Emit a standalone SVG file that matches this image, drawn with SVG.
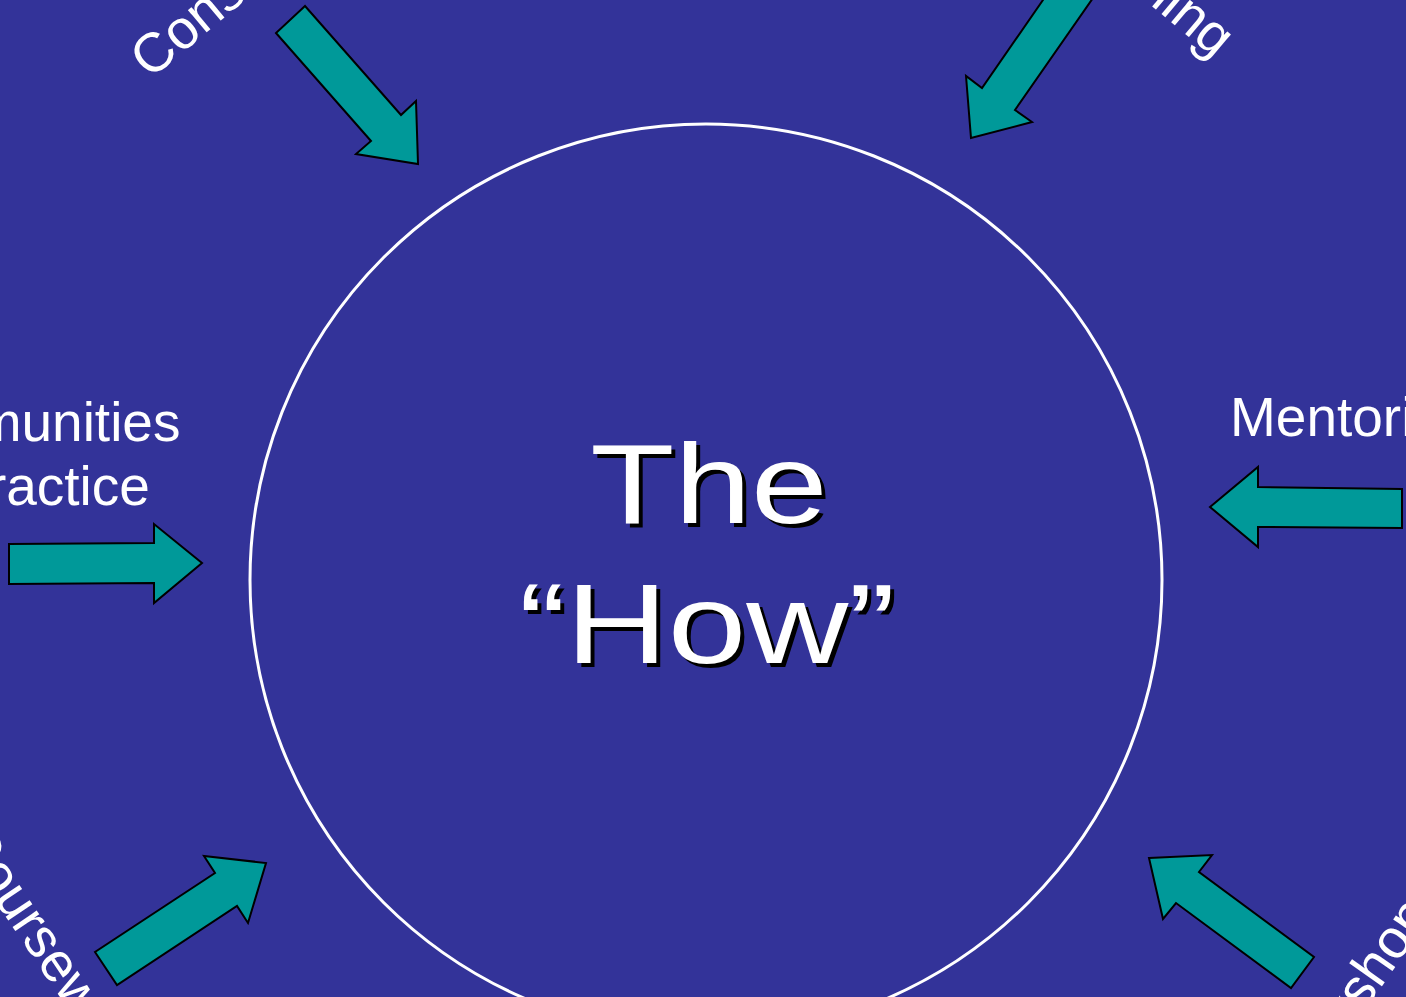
<svg xmlns="http://www.w3.org/2000/svg" width="1406" height="997" viewBox="0 0 1406 997">
  <style>
    .bg { fill: #333399; }
    .arrow { fill: #009999; stroke: #000000; stroke-width: 2; stroke-linejoin: miter; }
    .label { font-family: "Liberation Sans", Arial, sans-serif; font-size: 55px; fill: #ffffff; }
    .big { font-family: "Liberation Sans", Arial, sans-serif; font-size: 113px; text-anchor: middle; }
    .shadow { fill: #000000; }
    .front { fill: #ffffff; }
  </style>
  <rect class="bg" x="0" y="0" width="1406" height="997"/>

  <g id="how">
    <circle cx="706" cy="580" r="456" fill="none" stroke="#ffffff" stroke-width="3"/>
    <g transform="translate(713,527) scale(1.22,1)"><text class="big shadow" x="0" y="0">The</text></g>
    <g transform="translate(709,523) scale(1.22,1)"><text class="big front" x="0" y="0">The</text></g>
    <g transform="translate(711,667) scale(1.25,1)"><text class="big shadow" x="0" y="0">“How”</text></g>
    <g transform="translate(707,663) scale(1.25,1)"><text class="big front" x="0" y="0">“How”</text></g>
  </g>

  <g id="consulting">
    <text class="label" transform="translate(150,80) rotate(-40)">Consulting</text>
  </g>
  <g id="training">
    <text class="label" text-anchor="end" transform="translate(1215,59) rotate(40)">Training</text>
  </g>
  <g id="communities">
    <text class="label" text-anchor="middle" x="20" y="441">Communities</text>
    <text class="label" text-anchor="middle" x="20" y="505">of Practice</text>
  </g>
  <g id="mentoring">
    <text class="label" x="1230" y="436">Mentoring</text>
  </g>
  <g id="coursework">
    <text class="label" transform="translate(-46,840) rotate(56)">Coursework</text>
  </g>
  <g id="workshops">
    <text class="label" transform="translate(1291,1116) rotate(-55)">Workshops</text>
  </g>

  <g id="connectors">
    <polygon class="arrow" points="305,6 276,33 371,141 356,154 418,164 416,101 401,115"/>
    <polygon class="arrow" points="1060,-25 1109,-25 1015,110 1032,122 971,138 966,76 982,88 1043,0"/>
    <polygon class="arrow" points="9,544 154,543 154,524 202,563 154,603 154,583 9,584"/>
    <polygon class="arrow" points="1210,507 1258,467 1258,487 1402,489 1402,528 1258,527 1258,547"/>
    <polygon class="arrow" points="95,952 117,985 237,906 248,923 266,863 204,856 215,873"/>
    <polygon class="arrow" points="1149,858 1212,855 1199,872 1314,957 1291,988 1176,903 1163,919"/>
  </g>
</svg>
